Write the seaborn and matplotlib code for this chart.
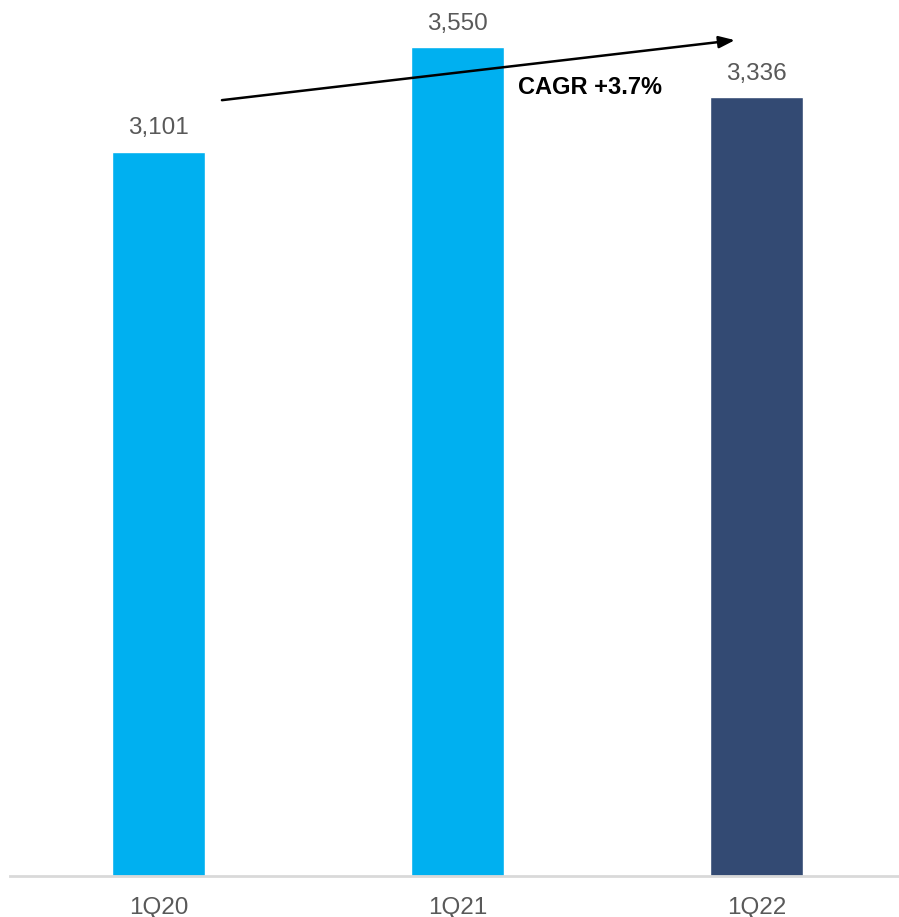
import matplotlib
matplotlib.use("Agg")
import matplotlib.pyplot as plt
import seaborn as sns
import pandas as pd

categories = ["1Q20", "1Q21", "1Q22"]
values = [3101, 3550, 3336]
bar_colors = ["#00B0F0", "#00B0F0", "#334A73"]
value_labels = ["3,101", "3,550", "3,336"]
cagr_label = "CAGR +3.7%"

sns.set_theme(style="white")
plt.rcParams["font.family"] = ["Liberation Sans", "DejaVu Sans"]

df = pd.DataFrame({"period": categories, "value": values})

fig = plt.figure(figsize=(8.99, 9.17), dpi=100)
ax = fig.add_axes([10 / 899, (917 - 876) / 917, 889 / 899, 876 / 917])

sns.barplot(data=df, x="period", y="value", hue="period", palette=bar_colors,
            width=0.311, legend=False, ax=ax, saturation=1)

ax.set_xlim(-0.497, 2.477)
ax.set_ylim(0, 3752)

for i, (v, lab) in enumerate(zip(values, value_labels)):
    ax.annotate(lab, (i, v), xytext=(0, 9), textcoords="offset points",
                ha="center", va="bottom", fontsize=17.5, color="#595959")

ax.annotate("", xy=(1.928, 3580), xytext=(0.212, 3323),
            arrowprops=dict(arrowstyle="-|>,head_length=0.8,head_width=0.3",
                            color="black", lw=1.8, shrinkA=0, shrinkB=0))
ax.text(1.202, 3377, cagr_label, fontsize=17, fontweight="bold",
        color="black", ha="left", va="center")

ax.set_xlabel("")
ax.set_ylabel("")
ax.set_yticks([])
ax.tick_params(axis="x", length=0, pad=15, labelsize=17.5, labelcolor="#595959")
for s in ["top", "right", "left"]:
    ax.spines[s].set_visible(False)
ax.spines["bottom"].set_color("#D9D9D9")
ax.spines["bottom"].set_linewidth(2)

fig.savefig("out.png", dpi=100, facecolor="white")
